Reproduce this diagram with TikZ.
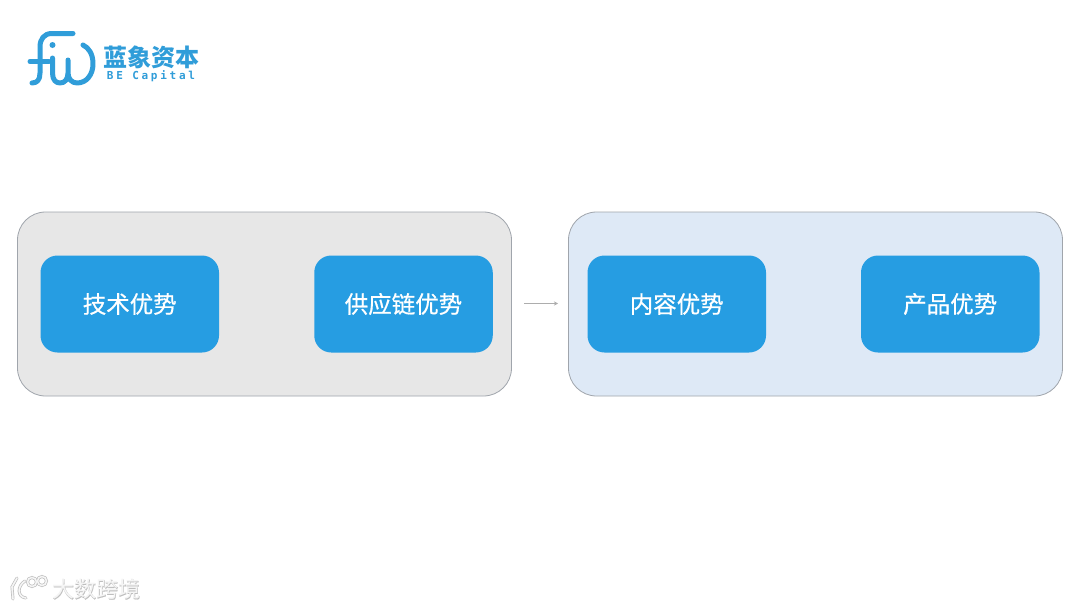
\documentclass[tikz,border=0pt]{standalone}
\usepackage{fontspec}
\usetikzlibrary{arrows.meta}
\setmainfont{Liberation Sans}
\newfontfamily\cjk{Noto Sans CJK SC}
\newfontfamily\cjkfat[FakeBold=0.6]{Noto Sans CJK SC}
\newfontfamily\capfont[LetterSpace=25]{DejaVu Sans Mono}
\definecolor{boxblue}{RGB}{38,157,226}
\definecolor{logoblue}{RGB}{48,157,217}
\definecolor{panelgray}{RGB}{231,231,231}
\definecolor{panelblue}{RGB}{222,233,246}
\definecolor{panelline}{RGB}{160,165,172}
\definecolor{wmgray}{RGB}{245,245,245}
\definecolor{wmedge}{RGB}{190,190,190}
\tikzset{
  panel/.style={draw=panelline,line width=0.8pt,rounded corners=28pt,minimum width=494pt,minimum height=184pt,inner sep=0pt},
  itembox/.style={fill=boxblue,rounded corners=17pt,minimum width=178.5pt,minimum height=97pt,inner sep=0pt,text=white,font={\cjkfat\fontsize{23.5}{23.5}\selectfont}},
  logoline/.style={draw=logoblue,line width=5pt,line cap=round,line join=round},
  wmline/.style={draw=wmedge,line width=3pt,line cap=round},
  wminner/.style={draw=wmgray,line width=1.6pt,line cap=round}
}
\begin{document}
\begin{tikzpicture}[x=1pt,y=-1pt]
\useasboundingbox (0,0) rectangle (1080,608);
\fill[white] (0,0) rectangle (1080,608);
\node[panel,fill=panelgray] (left) at (264.5,304) {};
\node[panel,fill=panelblue] (right) at (815.5,304) {};
\node[itembox] (a) at (129.75,304) {\raisebox{-3pt}{技术优势}};
\node[itembox] (b) at (403.5,304) {\raisebox{-3pt}{供应链优势}};
\node[itembox] (c) at (676.75,304) {\raisebox{-3pt}{内容优势}};
\node[itembox] (d) at (950.25,304) {\raisebox{-3pt}{产品优势}};
\coordinate (s) at (524,303.5);
\coordinate (e) at (558,303.5);
\draw[-{Stealth[length=4pt,width=4pt]},draw=black!32,fill=black!32,line width=0.5pt] (s) -- (e);
% logo
\draw[logoline] (73,33.5) -- (52,33.5) .. controls (44,33.5) and (40,39) .. (40,47) -- (40,73) .. controls (40,80) and (37,83) .. (32,83);
\draw[logoline] (30,61.5) -- (49,61.5);
\fill[logoblue] (52.5,45) circle (3pt);
\draw[logoline] (52.5,58) -- (52.5,73) .. controls (52.5,80) and (56,83) .. (60,83) .. controls (65,83) and (68,79) .. (68,73) -- (68,60) -- (68,73) .. controls (68,79) and (72,83) .. (77,83) .. controls (87,83) and (93,74) .. (93,64) .. controls (93,54) and (89,48) .. (83,45);
\node[anchor=center,text=logoblue,inner sep=0pt,font={\cjk\bfseries\fontsize{24}{24}\selectfont}] (t1) at (151,57) {蓝象资本};
\node[anchor=center,text=logoblue,inner sep=0pt,font={\capfont\bfseries\fontsize{11}{11}\selectfont}] (t2) at (151,76) {BE Capital};
% watermark
\draw[wmline] (17,578) -- (12,587) -- (13,599);
\draw[wmline] (25,581) .. controls (17,586) and (17,597) .. (26,598);
\draw[wmline] (32,582) circle (4.5pt);
\draw[wmline] (42,581) circle (4.5pt);
\draw[wminner] (17,578) -- (12,587) -- (13,599);
\draw[wminner] (25,581) .. controls (17,586) and (17,597) .. (26,598);
\draw[wminner] (32,582) circle (4.5pt);
\draw[wminner] (42,581) circle (4.5pt);
\node[inner sep=0pt,text=wmedge,font={\cjkfat\fontsize{22}{22}\selectfont}] (w1) at (96.5,589.5) {大数跨境};
\node[inner sep=0pt,text=wmgray,font={\cjk\fontsize{22}{22}\selectfont}] (w2) at (96.5,589.5) {大数跨境};
\end{tikzpicture}
\end{document}
